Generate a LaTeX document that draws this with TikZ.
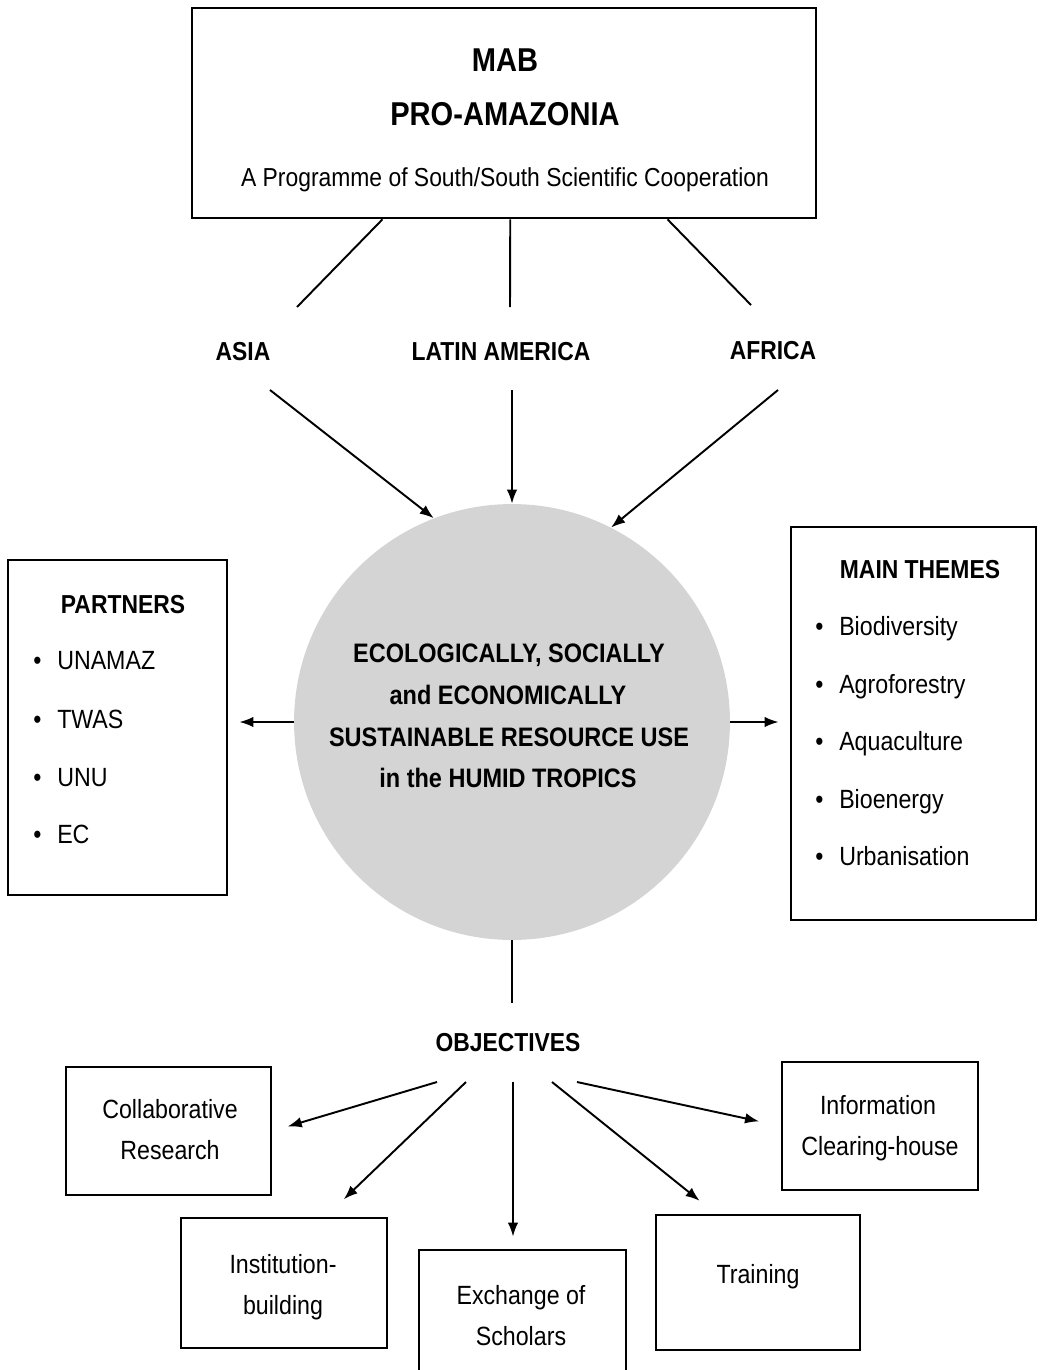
\documentclass[tikz,border=0pt]{standalone}
\usepackage{fontspec}
\setmainfont{Liberation Sans}[FakeStretch=0.88]
\usepackage{tikz}
\usetikzlibrary{arrows.meta,calc}

\tikzset{
    box/.style={draw, line width=1.6pt, inner sep=0pt},
    head/.style={font=\bfseries\fontsize{18.8}{22}\selectfont, inner sep=0pt, anchor=base},
    sub/.style={font=\fontsize{14.8}{17}\selectfont, inner sep=0pt, anchor=base},
    lbl/.style={font=\bfseries\fontsize{14.8}{17}\selectfont, inner sep=0pt, anchor=base},
    hubtext/.style={font=\bfseries\fontsize{15.2}{18}\selectfont, inner sep=0pt, anchor=base},
    txt/.style={font=\fontsize{15}{18}\selectfont, inner sep=0pt, anchor=base},
    item/.style={font=\fontsize{15}{18}\selectfont, inner sep=0pt, anchor=base west},
    link/.style={line width=1.1pt},
    arr/.style={line width=1.1pt, -{Latex[length=8pt,width=6pt]}}
}

\begin{document}
\begin{tikzpicture}[x=0.02cm,y=-0.02cm]
                        \useasboundingbox (0,0) rectangle (1046,1370);
                        \clip (0,0) rectangle (1046,1370);

                        \node[box, minimum width=12.48cm, minimum height=4.2cm] (mab) at (504,113) {};
                        \node[head] (mabname) at (505,71) {MAB};
                        \node[head] (proama) at (505,125) {PRO-AMAZONIA};
                        \node[sub] (progr) at (505,186) {A Programme of South/South Scientific Cooperation};

                        \node[lbl] (asia) at (243,360) {ASIA};
                        \node[lbl] (latam) at (501,360) {LATIN AMERICA};
                        \node[lbl] (africa) at (773,359) {AFRICA};

                        \node[circle, fill=black!17, minimum size=8.72cm, inner sep=0pt] (hub) at (512,722) {};
                        \node[hubtext] (hub1) at (509,662) {ECOLOGICALLY, SOCIALLY};
                        \node[hubtext] (hub2) at (508,704) {and ECONOMICALLY};
                        \node[hubtext] (hub3) at (509,746) {SUSTAINABLE RESOURCE USE};
                        \node[hubtext] (hub4) at (508,787) {in the HUMID TROPICS};

                        \node[box, minimum width=4.38cm, minimum height=6.7cm] (partners) at (117.5,727.5) {};
                        \node[lbl] (partnershead) at (123,613) {PARTNERS};
                        \node[item] (p1) at (33,669) {\textbullet\hspace{9pt}UNAMAZ};
                        \node[item] (p2) at (33,728) {\textbullet\hspace{9pt}TWAS};
                        \node[item] (p3) at (33,786) {\textbullet\hspace{9pt}UNU};
                        \node[item] (p4) at (33,843) {\textbullet\hspace{9pt}EC};

                        \node[box, minimum width=4.9cm, minimum height=7.86cm] (themes) at (913.5,723.5) {};
                        \node[lbl] (themeshead) at (920,578) {MAIN THEMES};
                        \node[item] (t1) at (815,635) {\textbullet\hspace{9pt}Biodiversity};
                        \node[item] (t2) at (815,693) {\textbullet\hspace{9pt}Agroforestry};
                        \node[item] (t3) at (815,750) {\textbullet\hspace{9pt}Aquaculture};
                        \node[item] (t4) at (815,808) {\textbullet\hspace{9pt}Bioenergy};
                        \node[item] (t5) at (815,865) {\textbullet\hspace{9pt}Urbanisation};

                        \node[lbl] (obj) at (508,1051) {OBJECTIVES};

                        \node[box, minimum width=4.1cm, minimum height=2.56cm] (collab) at (168.5,1131) {};
                        \node[txt] at (170,1118) {Collaborative};
                        \node[txt] at (170,1159) {Research};

                        \node[box, minimum width=4.12cm, minimum height=2.6cm] (inst) at (284,1283) {};
                        \node[txt] at (283,1273) {Institution-};
                        \node[txt] at (283,1314) {building};

                        \node[box, minimum width=4.14cm, minimum height=2.6cm] (exch) at (522.5,1315) {};
                        \node[txt] at (521,1304) {Exchange of};
                        \node[txt] at (521,1345) {Scholars};

                        \node[box, minimum width=4.08cm, minimum height=2.7cm] (train) at (758,1282.5) {};
                        \node[txt] at (758,1283) {Training};

                        \node[box, minimum width=3.92cm, minimum height=2.56cm] (info) at (880,1126) {};
                        \node[txt] at (878,1114) {Information};
                        \node[txt] at (880,1155) {Clearing-house};

                        \coordinate (a0) at (297,307);
                        \coordinate (b0) at (510,307);
                        \coordinate (c0) at (751,305);
                        \coordinate (a1) at (270,390);
                        \coordinate (b1) at (512,390);
                        \coordinate (c1) at (778,390);
                        \coordinate (objtop) at (512,1003);
                        \coordinate (o1) at (437,1082);
                        \coordinate (o2) at (466,1082);
                        \coordinate (o3) at (513,1082);
                        \coordinate (o4) at (552,1082);
                        \coordinate (o5) at (577,1082);

                        \draw[link] ($(mab.south west)!.306!(mab.south east)$) -- (a0);
                        \draw[link] ($(mab.south west)!.51!(mab.south east)$) -- (b0);
                        \draw[link] ($(mab.south west)!.761!(mab.south east)$) -- (c0);

                        \draw[arr] (a1) -- (hub.111);
                        \draw[arr] (b1) -- (hub.90);
                        \draw[arr] (c1) -- (hub.63);

                        \draw[arr, shorten >=0.22cm] (hub.west) -- (hub.west -| partners.east);
                        \draw[arr, shorten >=0.22cm] (hub.east) -- (hub.east -| themes.west);
                        \draw[link] (hub.south) -- (objtop);

                        \draw[arr, shorten >=0.32cm] (o1) -- (collab.east);
                        \draw[arr, shorten >=0.5cm] (o2) -- ($(inst.north)!.4!(inst.north east)$);
                        \draw[arr, shorten >=0.24cm] (o3) -- (o3 |- exch.north);
                        \draw[arr, shorten >=0.41cm] (o4) -- ($(train.north west)!.59!(train.north)$);
                        \draw[arr, shorten >=0.44cm] (o5) -- (info.west);
\end{tikzpicture}
\end{document}
